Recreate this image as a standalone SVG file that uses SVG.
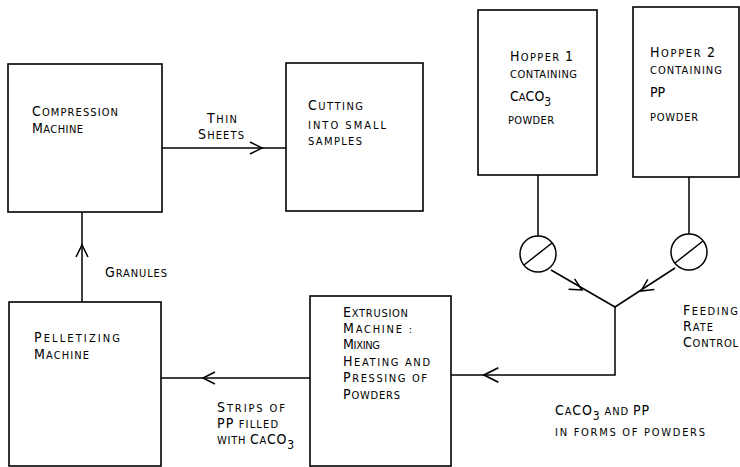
<svg xmlns="http://www.w3.org/2000/svg" width="740" height="467" viewBox="0 0 740 467">
<style>
.box{fill:#fff;stroke:#000;stroke-width:1.6}
.ln{fill:none;stroke:#000;stroke-width:1.5}
.chev{fill:none;stroke:#000;stroke-width:1.5}
text{font-family:"DejaVu Sans Condensed","DejaVu Sans",sans-serif;font-size:11px;fill:#000}
.b{font-size:14px}
.sub{font-size:12px}
</style>
<defs>
<path id="chev" d="M-12,-6 L0,0 L-12,6"/>
</defs>
<rect width="740" height="467" fill="#fff"/>
<g id="connectors">
<line class="ln" x1="162" y1="148" x2="286" y2="148"/>
<line class="ln" x1="82" y1="302" x2="82" y2="212"/>
<line class="ln" x1="310" y1="378" x2="161" y2="378"/>
<polyline class="ln" points="538,175 538,236"/>
<polyline class="ln" points="689,177 689,234"/>
<polyline class="ln" points="551,270 615,307 675,268"/>
<polyline class="ln" points="615,307 615,375 451,375"/>
<use href="#chev" class="chev" transform="translate(262,148)"/>
<use href="#chev" class="chev" transform="translate(82,245) rotate(-90)"/>
<use href="#chev" class="chev" transform="translate(203,378) rotate(180)"/>
<use href="#chev" class="chev" transform="translate(484,375) rotate(180) scale(1.2)"/>
<use href="#chev" class="chev" transform="translate(582,290) rotate(30)"/>
<use href="#chev" class="chev" transform="translate(641,291) rotate(147)"/>
</g>
<g id="compression">
<rect class="box" x="8" y="64" width="154" height="148"/>
<text x="32" y="116" textLength="86" lengthAdjust="spacing"><tspan class="b">C</tspan>OMPRESSION</text>
<text x="32" y="133" textLength="51" lengthAdjust="spacing"><tspan class="b">M</tspan>ACHINE</text>
</g>
<g id="cutting">
<rect class="box" x="286" y="63" width="137" height="148"/>
<text x="308" y="110" textLength="55" lengthAdjust="spacing"><tspan class="b">C</tspan>UTTING</text>
<text x="308" y="129" textLength="78" lengthAdjust="spacing">INTO SMALL</text>
<text x="308" y="145" textLength="54" lengthAdjust="spacing">SAMPLES</text>
</g>
<g id="hopper1">
<rect class="box" x="478" y="10" width="119" height="165"/>
<text x="510" y="61" textLength="63" lengthAdjust="spacing"><tspan class="b">H</tspan>OPPER <tspan class="b">1</tspan></text>
<text x="510" y="78" textLength="67" lengthAdjust="spacing">CONTAINING</text>
<text x="510" y="101"><tspan class="b">C</tspan>A<tspan class="b">CO</tspan><tspan class="sub" dy="5">3</tspan></text>
<text x="508" y="124" textLength="46" lengthAdjust="spacing">POWDER</text>
</g>
<g id="hopper2">
<rect class="box" x="633" y="7" width="106" height="170"/>
<text x="650" y="57" textLength="65" lengthAdjust="spacing"><tspan class="b">H</tspan>OPPER <tspan class="b">2</tspan></text>
<text x="650" y="74" textLength="72" lengthAdjust="spacing">CONTAINING</text>
<text x="650" y="97" class="b">PP</text>
<text x="650" y="121" textLength="48" lengthAdjust="spacing">POWDER</text>
</g>
<g id="valve1">
<circle class="ln" cx="538" cy="254" r="18"/>
<line class="ln" x1="524" y1="265" x2="552" y2="243"/>
</g>
<g id="valve2">
<circle class="ln" cx="689" cy="252" r="18"/>
<line class="ln" x1="675" y1="263" x2="703" y2="241"/>
</g>
<g id="extrusion">
<rect class="box" x="310" y="296" width="141" height="170"/>
<text x="343" y="316.5" textLength="65" lengthAdjust="spacing"><tspan class="b">E</tspan>XTRUSION</text>
<text x="343" y="332.9" textLength="69" lengthAdjust="spacing"><tspan class="b">M</tspan>ACHINE :</text>
<text x="343" y="349.3" textLength="37" lengthAdjust="spacing"><tspan class="b">M</tspan>IXING</text>
<text x="343" y="365.7" textLength="87" lengthAdjust="spacing"><tspan class="b">H</tspan>EATING AND</text>
<text x="343" y="382.1" textLength="84" lengthAdjust="spacing"><tspan class="b">P</tspan>RESSING OF</text>
<text x="343" y="398.5" textLength="57" lengthAdjust="spacing"><tspan class="b">P</tspan>OWDERS</text>
</g>
<g id="pelletizing">
<rect class="box" x="9" y="302" width="152" height="164"/>
<text x="34" y="342" textLength="86" lengthAdjust="spacing"><tspan class="b">P</tspan>ELLETIZING</text>
<text x="34" y="359" textLength="55" lengthAdjust="spacing"><tspan class="b">M</tspan>ACHINE</text>
</g>
<g id="labels">
<text x="207" y="122.5" textLength="30" lengthAdjust="spacing"><tspan class="b">T</tspan>HIN</text>
<text x="198" y="138.9" textLength="46" lengthAdjust="spacing"><tspan class="b">S</tspan>HEETS</text>
<text x="105" y="277" textLength="62" lengthAdjust="spacing"><tspan class="b">G</tspan>RANULES</text>
<text x="683" y="314.5" textLength="55" lengthAdjust="spacing"><tspan class="b">F</tspan>EEDING</text>
<text x="683" y="330.9" textLength="30" lengthAdjust="spacing"><tspan class="b">R</tspan>ATE</text>
<text x="683" y="347.3" textLength="55" lengthAdjust="spacing"><tspan class="b">C</tspan>ONTROL</text>
<text x="217" y="411.5" textLength="68" lengthAdjust="spacing"><tspan class="b">S</tspan>TRIPS OF</text>
<text x="217" y="427.8" textLength="61" lengthAdjust="spacing"><tspan class="b">PP</tspan> FILLED</text>
<text x="217" y="444.1" textLength="77" lengthAdjust="spacing">WITH <tspan class="b">C</tspan>A<tspan class="b">CO</tspan><tspan class="sub" dy="5">3</tspan></text>
<text x="555" y="415" textLength="94" lengthAdjust="spacing"><tspan class="b">C</tspan>A<tspan class="b">CO</tspan><tspan class="sub" dy="5">3</tspan><tspan dy="-5"> AND </tspan><tspan class="b">PP</tspan></text>
<text x="555" y="436" textLength="150" lengthAdjust="spacing">IN FORMS OF POWDERS</text>
</g>
</svg>
